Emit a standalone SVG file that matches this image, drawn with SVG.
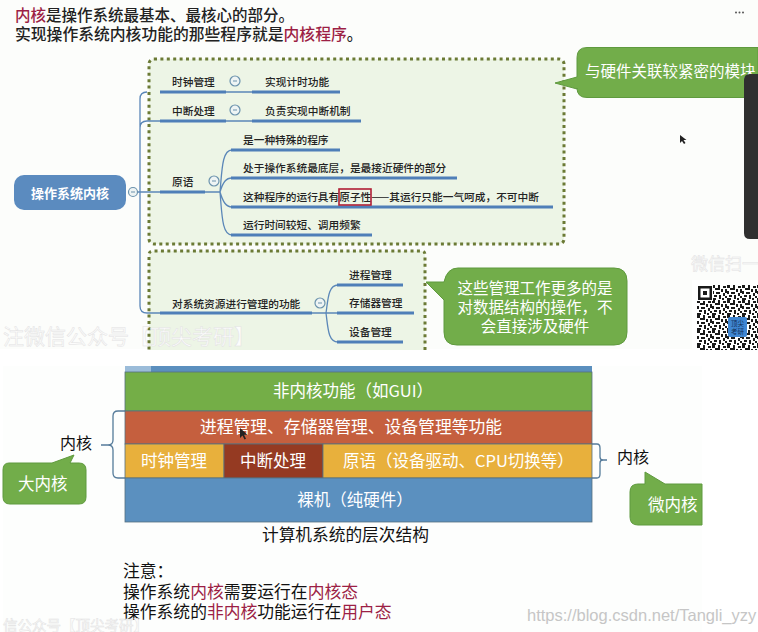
<svg xmlns="http://www.w3.org/2000/svg" width="758" height="632" viewBox="0 0 758 632">
<style>
text{font-family:"Noto Sans CJK SC","Liberation Sans",sans-serif}
.t{font-size:10.700px;fill:#222;font-weight:500}
.h{fill:#222;font-weight:500}
.r{fill:#9c1f45}
.w{fill:#fff;font-size:16.500px}
.wm{font-size:21px;fill:#fcfcfc;stroke:#e2e2e2;stroke-width:.5}
.ln{fill:none;stroke:#5b87b8;stroke-width:1.300}
.ul{stroke:#4f7fb8;stroke-width:2.800;fill:none}
.c{fill:#eef4f4;stroke:#6c93ad;stroke-width:1.200}
.panel{fill:#edf5e6;stroke:#6b7a35;stroke-width:3;stroke-dasharray:3 3.400}
.bub{fill:#72ad4a;stroke:#5f9a3e;stroke-width:1}
.br{fill:none;stroke:#557b9a;stroke-width:1.300}
.bx{stroke:#55707f;stroke-width:.8}
</style>
<defs>
<pattern id="qrp" width="15" height="15" patternUnits="userSpaceOnUse" x="697" y="285">
<path d="M0 0h3v3H0zM6 0h2v5H6zM11 1h3v2h-3zM3 3h3v2H3zM9 4h2v3H9zM13 4h2v4h-2zM0 6h2v3H0zM4 7h4v2H4zM11 8h2v3h-2zM2 10h3v2H2zM7 10h2v4H7zM13 11h2v2h-2zM0 13h4v2H0zM10 13h2v2h-2z" fill="#1a1a1a"/>
</pattern>
</defs>
<rect width="758" height="632" fill="#fff"/>
<rect x="0" y="0" width="758" height="349" fill="#fcfdfb"/>
<rect x="3" y="366" width="699" height="266" fill="#fdfefd"/>

<g id="heading">
<text class="h" y="21" x="15" style="font-size:15.500px"><tspan class="r">内核</tspan>是操作系统最基本、最核心的部分。</text>
<text class="h" y="40" x="15" style="font-size:15.800px">实现操作系统内核功能的那些程序就是<tspan class="r">内核程序</tspan>。</text>
</g>

<g id="panel-hardware"><rect class="panel" x="149" y="59" width="415" height="185" rx="5"/></g>
<g id="panel-management"><path class="panel" d="M425 350V255Q425 251 421 251H153Q149 251 149 255V350"/></g>

<g id="connectors">
<path class="ln" d="M137 192H160M147 92Q140 92 140 99V306Q140 313 147 313H160M140 128Q140 121 147 121H160"/>
<path class="ln" d="M226 92H252M226 121H252M205 192H220M312 313H337"/>
<path class="ln" d="M220 192C222 170 222 150 232 150M220 192C223 182 226 178 232 178M220 192C223 202 226 207 232 207M220 192C222 215 222 235 232 235"/>
<path class="ln" d="M326 313C328 300 328 285 338 285M326 313C328 328 328 342 338 342"/>
<path class="ul" d="M160 92H226M252 92H340M160 121H226M252 121H361M160 192H205M231 150H340M231 178H457M231 207H553M231 235H372M160 313H312M337 285H403M337 313H414M337 342H403"/>
</g>

<g id="root"><rect x="14" y="175" width="112" height="35" rx="10" fill="#5b8bbf"/><text x="70" y="198" text-anchor="middle" style="font-size:13px;font-weight:700;fill:#fff">操作系统内核</text><circle class="c" cx="133" cy="192" r="4.500"/><path d="M131 192h4" stroke="#6c93ad"/></g>

<g id="n-clock"><text class="t" x="172" y="86">时钟管理</text><circle class="c" cx="235" cy="81" r="5"/><path d="M233 81h4" stroke="#6c93ad"/><text class="t" x="265" y="86">实现计时功能</text></g>
<g id="n-interrupt"><text class="t" x="172" y="115">中断处理</text><circle class="c" cx="235" cy="110" r="5"/><path d="M233 110h4" stroke="#6c93ad"/><text class="t" x="265" y="115">负责实现中断机制</text></g>
<g id="n-primitive"><text class="t" x="172" y="186">原语</text><circle class="c" cx="214" cy="181" r="5"/><path d="M212 181h4" stroke="#6c93ad"/>
<text class="t" x="243" y="144">是一种特殊的程序</text>
<text class="t" x="243" y="172">处于操作系统最底层，是最接近硬件的部分</text>
<text class="t" x="243" y="201">这种程序的运行具有原子性——其运行只能一气呵成，不可中断</text>
<rect x="339" y="189" width="32" height="16" fill="none" stroke="#b01f35" stroke-width="1.600"/>
<text class="t" x="243" y="229">运行时间较短、调用频繁</text></g>
<g id="n-management"><text class="t" x="172" y="308">对系统资源进行管理的功能</text><circle class="c" cx="320" cy="303" r="5"/><path d="M318 303h4" stroke="#6c93ad"/>
<text class="t" x="349" y="279">进程管理</text><text class="t" x="349" y="307">存储器管理</text><text class="t" x="349" y="336">设备管理</text></g>

<g id="callout-hardware"><path class="bub" d="M758 47.500H587Q577 47.500 577 57.500V77L555 83L577 89V88Q577 97.500 587 97.500H758Z"/><text class="w" x="585" y="77" style="font-size:15.500px">与硬件关联较紧密的模块</text></g>
<g id="dark-bar"><path d="M758 74H750Q744 74 744 80V233Q744 239 750 239H758Z" fill="#2f2f2f"/></g>
<g id="callout-management"><path class="bub" d="M458 268H614Q627 268 627 281V332Q627 345 614 345H457Q444 345 444 332V300L426 282L444 282Q447 268 458 268Z"/>
<text class="w" x="535" y="294" text-anchor="middle" style="font-size:15.500px">这些管理工作更多的是</text><text class="w" x="535" y="313" text-anchor="middle" style="font-size:15.500px">对数据结构的操作，不</text><text class="w" x="535" y="332" text-anchor="middle" style="font-size:15.500px">会直接涉及硬件</text></g>

<g id="watermarks">
<text class="wm" x="3" y="344">注微信公众号【顶尖考研】</text>
<text class="wm" x="691" y="270" style="font-size:17px">微信扫一</text>
</g>
<g id="qr"><rect x="692" y="280" width="66" height="70" fill="#fff"/>
<rect x="697" y="285" width="61" height="65" fill="url(#qrp)"/>
<rect x="696" y="284" width="17" height="17" fill="#fff"/>
<path d="M698 286h14v14h-14zM700.500 288.500v9h9v-9z" fill="#1a1a1a" fill-rule="evenodd"/><rect x="703" y="291" width="4" height="4" fill="#1a1a1a"/>
<rect x="728" y="317" width="19" height="20" rx="2" fill="#3f86d2"/>
<text x="737.500" y="325.500" text-anchor="middle" style="font-size:6.500px;fill:#12325a">顶尖</text>
<text x="737.500" y="334" text-anchor="middle" style="font-size:6.500px;fill:#12325a">考研</text>
</g>
<g id="cursor-top"><path d="M680 135l0 8 2-2 2 3 1.500-1-2-3h3z" fill="#222"/></g>
<g id="menu-dots" fill="#555"><circle cx="736" cy="12.500" r="1"/><circle cx="739.500" cy="12.500" r="1"/><circle cx="743" cy="12.500" r="1"/></g>

<g id="layer-top"><rect x="125" y="366" width="467" height="6" fill="#5b8fbe"/><rect x="125" y="366" width="26" height="6" fill="#9bbcd9"/></g>
<g id="layer-non-kernel"><rect class="bx" x="125" y="372" width="467" height="39" fill="#74ae47"/><text class="w" x="353" y="397" text-anchor="middle" style="font-size:16.500px">非内核功能（如GUI）</text></g>
<g id="layer-mgmt"><rect class="bx" x="125" y="411" width="467" height="33" fill="#c55f3e"/><text class="w" x="351" y="433" text-anchor="middle" style="font-size:16.800px">进程管理、存储器管理、设备管理等功能</text></g>
<g id="layer-clock"><rect class="bx" x="125" y="444" width="99" height="34" fill="#e8b03c"/><text class="w" x="174" y="467" text-anchor="middle">时钟管理</text></g>
<g id="layer-interrupt"><rect class="bx" x="224" y="444" width="99" height="34" fill="#953a22"/><text class="w" x="273" y="467" text-anchor="middle">中断处理</text></g>
<g id="layer-primitive"><rect class="bx" x="323" y="444" width="269" height="34" fill="#e8b03c"/><text class="w" x="343" y="467">原语（设备驱动、CPU切换等）</text></g>
<g id="layer-bare"><rect class="bx" x="125" y="478" width="467" height="44" fill="#5b90bf"/><text class="w" x="355" y="506" text-anchor="middle">裸机（纯硬件）</text></g>
<g id="cursor-lower"><path d="M240 428l0 10 2.500-2.500 2 4 1.500-.8-2-4h3.500z" fill="#222"/></g>

<g id="braces">
<path class="br" d="M125 411H118Q113 411 113 416V440Q113 445 108 445H101M108 445Q113 445 113 450V473Q113 478 118 478H125"/>
<path class="br" d="M592 444H597Q600 444 600 448V457Q600 460 603 460H607M603 460Q600 460 600 463V474Q600 478 597 478H592"/>
</g>
<g id="kernel-left"><text x="60" y="449" style="font-size:16px;fill:#111">内核</text></g>
<g id="kernel-right"><text x="617" y="463" style="font-size:16px;fill:#111">内核</text></g>
<g id="callout-big"><path class="bub" d="M9 463H52L74 455L70 463H79Q86 463 86 470V497Q86 504 79 504H10Q3 504 3 497V470Q3 463 9 463Z"/><text class="w" x="18" y="490">大内核</text></g>
<g id="callout-micro"><path class="bub" d="M702 484H665L645 472V484H638Q630 484 630 492V517Q630 525 638 525H702Z"/><text class="w" x="648" y="511">微内核</text></g>

<g id="caption"><text x="262" y="541" style="font-size:16.700px;fill:#111">计算机系统的层次结构</text></g>
<g id="note" style="font-size:16.800px;fill:#111">
<text x="123" y="577">注意：</text>
<text x="123" y="598">操作系统<tspan class="r">内核</tspan>需要运行在<tspan class="r">内核态</tspan></text>
<text x="123" y="618">操作系统的<tspan class="r">非内核</tspan>功能运行在<tspan class="r">用户态</tspan></text>
</g>
<g id="footer">
<text class="wm" x="3" y="631" style="font-size:14.500px">信公众号【顶尖考研】</text>
<text x="527" y="621" style="font-family:'Liberation Sans',sans-serif;font-size:16.500px;fill:#c6c6c6">https://blog.csdn.net/Tangli_yzy</text>
</g>
</svg>
